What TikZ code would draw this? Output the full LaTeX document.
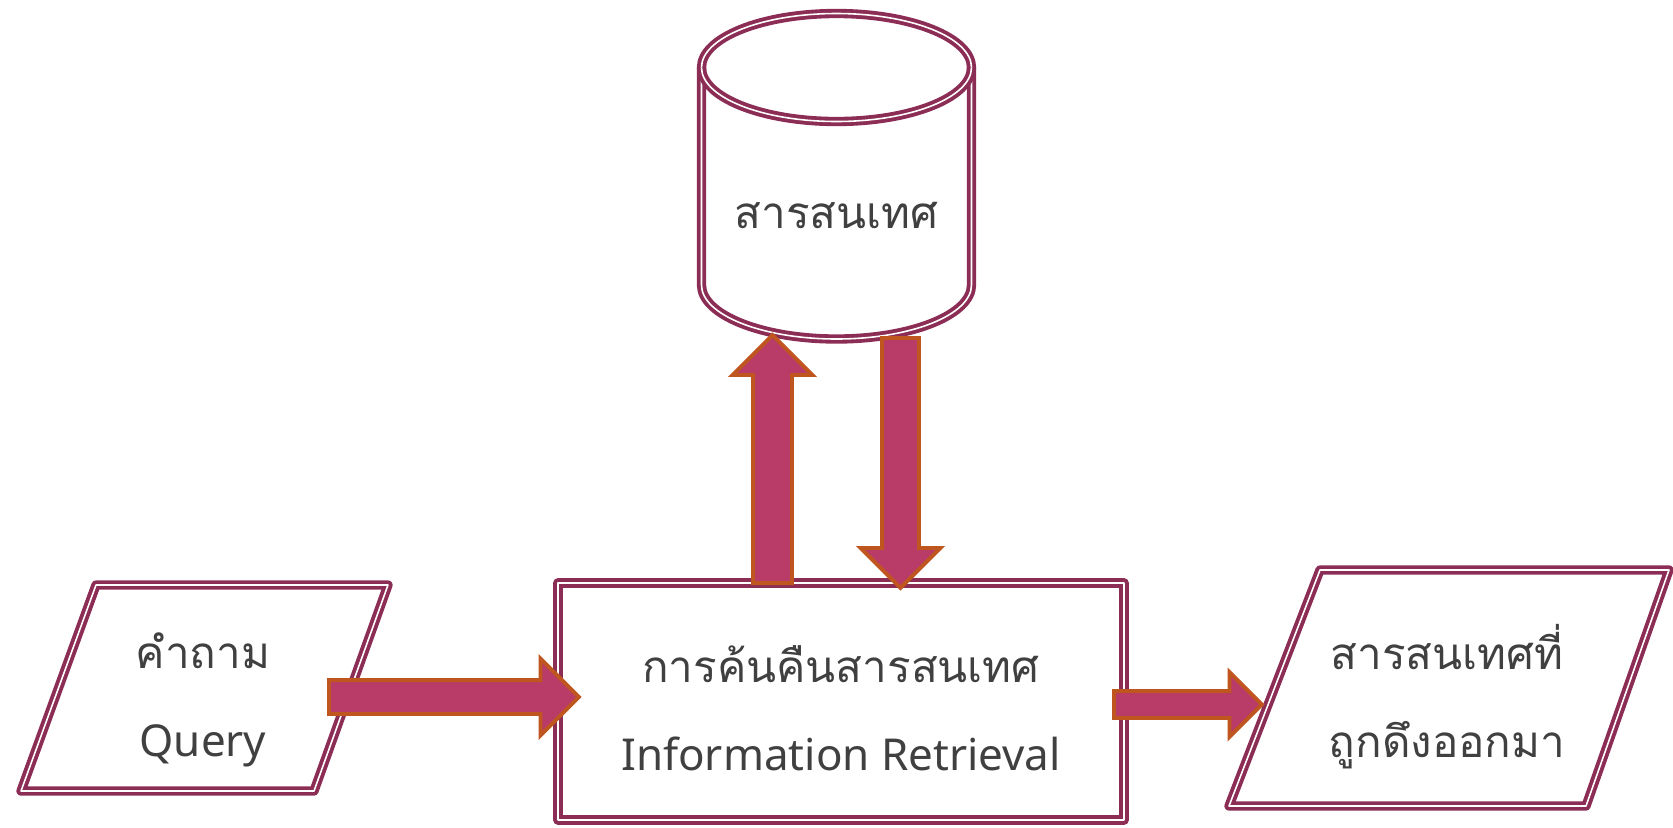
\documentclass[tikz,border=0pt]{standalone}
\usepackage{fontspec}
\setmainfont{Noto Sans}
\newfontfamily\thaifont[Script=Thai]{Loma}
\usetikzlibrary{calc,shapes.arrows}

\definecolor{boxc}{HTML}{8C2D55}
\definecolor{fillc}{HTML}{B93B68}
\definecolor{arrowc}{HTML}{C0561F}
\definecolor{txtc}{HTML}{404040}

\tikzset{
  boxline/.style={draw=boxc, line width=1.1pt, double=white, double distance=.45pt, line join=round},
  txtnode/.style={text=txtc, align=center, inner sep=0pt, font=\fontsize{12.5}{25}\selectfont},
  fatarrow/.style={single arrow, draw=arrowc, fill=fillc, line width=1.1pt, inner xsep=0pt,
    single arrow tip angle=90, single arrow head indent=0pt},
  flow/.style n args={2}{to path={let \p1=(\tikztostart), \p2=(\tikztotarget),
    \n1={veclen(\x2-\x1,\y2-\y1)}, \n2={atan2(\y2-\y1,\x2-\x1)}, \n3={(#1-#2)/2} in
    node[fatarrow, inner ysep=#2/2, minimum width=#1, single arrow head extend=\n3, minimum height=\n1,
      rotate=\n2, anchor=tail] at (\tikztostart) {}}},
}

\begin{document}
\begin{tikzpicture}
\useasboundingbox (0,0) rectangle (16.73,8.27);

\draw[boxline] (7.015,7.595) -- (7.015,5.42) arc[start angle=180, end angle=360, x radius=1.35, y radius=.54]
  -- (9.715,7.595) arc[start angle=0, end angle=180, x radius=1.35, y radius=.54] -- cycle;
\draw[boxline] (7.015,7.595) arc[start angle=180, end angle=360, x radius=1.35, y radius=.54];
\node[txtnode] (store) at (8.365,6.12) {\thaifont สารสนเทศ};

\node[boxline, minimum width=5.66cm, minimum height=2.37cm] (ir) at (8.41,1.255) {};
\node[txtnode] (irtext) at ([yshift=-.07cm]ir.center) {{\thaifont การค้นคืนสารสนเทศ}\\Information Retrieval};

\draw[boxline] (0.96,2.42) -- (3.88,2.42) -- (3.14,0.36) -- (0.21,0.36) -- cycle;
\node[txtnode] (query) at (2.03,1.27) {{\thaifont คำถาม}\\Query};

\draw[boxline] (13.20,2.57) -- (16.69,2.57) -- (15.86,0.21) -- (12.29,0.21) -- cycle;
\node[txtnode] (result) at (14.47,1.30) {{\thaifont สารสนเทศที่}\\{\thaifont ถูกดึงออกมา}};

\coordinate (qa) at (3.27,1.30);
\coordinate (qb) at (5.77,1.30);
\coordinate (ra) at (11.12,1.225);
\coordinate (rb) at (12.60,1.225);
\coordinate (ua) at (7.725,2.42);
\coordinate (ub) at (7.725,4.90);
\coordinate (da) at (9.005,4.91);
\coordinate (dn) at (9.005,2.41);

\path (qa) to[flow={.73cm}{.30cm}] (qb);
\path (ra) to[flow={.61cm}{.23cm}] (rb);
\path (ua) to[flow={.76cm}{.35cm}] (ub);
\path (da) to[flow={.76cm}{.33cm}] (dn);
\end{tikzpicture}
\end{document}
